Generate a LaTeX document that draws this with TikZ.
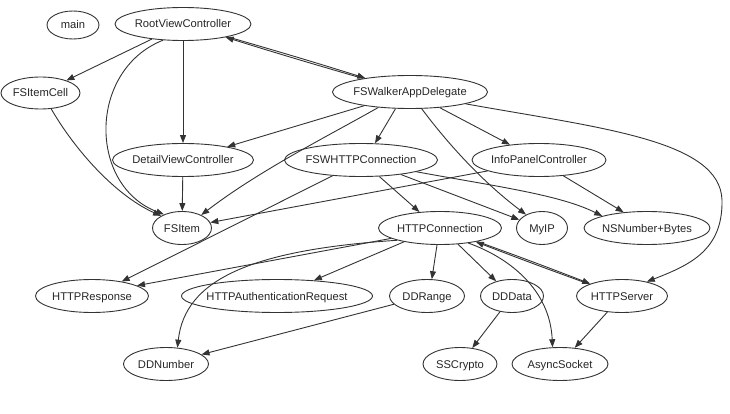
\documentclass[tikz,border=0pt]{standalone}
\usepackage{fontspec}
\setmainfont{Liberation Sans}
\usetikzlibrary{shapes.geometric,arrows.meta}
\newcommand\nlab[1]{\makebox[0pt]{#1}}
\begin{document}
\begin{tikzpicture}[x=1pt,y=-1pt,
  nd/.style={ellipse, draw=black!80, line width=0.9pt, inner sep=0pt,
    minimum height=33pt, font=\fontsize{11.2}{13}\selectfont, text=black!85,
    text height=8pt, text depth=0pt},
  ed/.style={draw=black!80, line width=0.9pt, -{Triangle[length=8pt,width=6pt]}},
  ]
\useasboundingbox (0,0) rectangle (730,414);

\node[nd, minimum width=52pt, minimum height=28pt] (main) at (73,25) {\nlab{main}};
\node[nd, minimum width=136pt] (RVC) at (183,24) {\nlab{RootViewController}};
\node[nd, minimum width=79pt, minimum height=32pt] (FSItemCell) at (40.5,93) {\nlab{FSItemCell}};
\node[nd, minimum width=155pt] (FSWAD) at (410,92) {\nlab{FSWalkerAppDelegate}};
\node[nd, minimum width=141pt] (DVC) at (183,160) {\nlab{DetailViewController}};
\node[nd, minimum width=153pt] (FSWHTTP) at (361,160) {\nlab{FSWHTTPConnection}};
\node[nd, minimum width=134pt] (InfoPanel) at (539,160) {\nlab{InfoPanelController}};
\node[nd, minimum width=59pt] (FSItem) at (182,228) {\nlab{FSItem}};
\node[nd, minimum width=123pt] (HTTPConnection) at (440,228) {\nlab{HTTPConnection}};
\node[nd, minimum width=51pt] (MyIP) at (542,228) {\nlab{MyIP}};
\node[nd, minimum width=126pt] (NSNB) at (647,228) {\nlab{NSNumber+Bytes}};
\node[nd, minimum width=113pt] (HTTPResponse) at (92,296) {\nlab{HTTPResponse}};
\node[nd, minimum width=191pt] (HTTPAuth) at (277,296) {\nlab{HTTPAuthenticationRequest}};
\node[nd, minimum width=75pt] (DDRange) at (427,296) {\nlab{DDRange}};
\node[nd, minimum width=63pt] (DDData) at (512,296) {\nlab{DDData}};
\node[nd, minimum width=91pt] (HTTPServer) at (622,296) {\nlab{HTTPServer}};
\node[nd, minimum width=85pt] (DDNumber) at (166,364) {\nlab{DDNumber}};
\node[nd, minimum width=74pt] (SSCrypto) at (460,364) {\nlab{SSCrypto}};
\node[nd, minimum width=96pt] (AsyncSocket) at (560,364) {\nlab{AsyncSocket}};

% RootViewController
\draw[ed] (RVC) -- (FSItemCell);
\draw[ed] (RVC.219) .. controls (88,70) and (88,185) .. (FSItem.143);
\draw[ed] (RVC) -- (DVC);
\draw[ed] (RVC) to[bend left=0.6] (FSWAD);
\draw[ed] (FSWAD) to[bend left=0.6] (RVC);
% FSItemCell, DetailViewController
\draw[ed] (FSItemCell.-56) .. controls (75,150) and (115,195) .. (FSItem.150);
\draw[ed] (DVC) -- (FSItem);
% FSWalkerAppDelegate
\draw[ed] (FSWAD) -- (DVC);
\draw[ed] (FSWAD.206) .. controls (330,135) and (260,170) .. (FSItem.34);
\draw[ed] (FSWAD.229) -- (FSWHTTP.50);
\draw[ed] (FSWAD.-55) .. controls (445,140) and (480,180) .. (MyIP.140);
\draw[ed] (FSWAD) -- (InfoPanel);
\draw[ed] (FSWAD.-12) .. controls (600,128) and (720,140) .. (722,200)
          .. controls (723,250) and (690,265) .. (HTTPServer.30);
% FSWHTTPConnection
\draw[ed] (FSWHTTP.-42) -- (HTTPConnection.142);
\draw[ed] (FSWHTTP.-20) -- (MyIP.160);
\draw[ed] (FSWHTTP.-12) .. controls (500,187) and (560,195) .. (NSNB.165);
\draw[ed] (FSWHTTP.209) -- (HTTPResponse.26);
% InfoPanelController
\draw[ed] (InfoPanel.192) -- (FSItem.11);
\draw[ed] (InfoPanel.-33) -- (NSNB.146);
% HTTPConnection
\draw[ed] (HTTPConnection.192) -- (HTTPResponse.13);
\draw[ed] (HTTPConnection.201) -- (HTTPAuth.23);
\draw[ed] (HTTPConnection.196) .. controls (250,250) and (185,280) .. (DDNumber.55);
\draw[ed] (HTTPConnection.-100) -- (DDRange.74);
\draw[ed] (HTTPConnection.-42) -- (DDData.137);
\draw[ed] (HTTPConnection.-28) .. controls (510,258) and (550,290) .. (AsyncSocket.114);
\draw[ed] (HTTPConnection) to[bend left=0.6] (HTTPServer);
\draw[ed] (HTTPServer) to[bend left=0.6] (HTTPConnection);
% lower rows
\draw[ed] (DDRange.194) -- (DDNumber.15);
\draw[ed] (DDData) -- (SSCrypto);
\draw[ed] (HTTPServer) -- (AsyncSocket);
\end{tikzpicture}
\end{document}
